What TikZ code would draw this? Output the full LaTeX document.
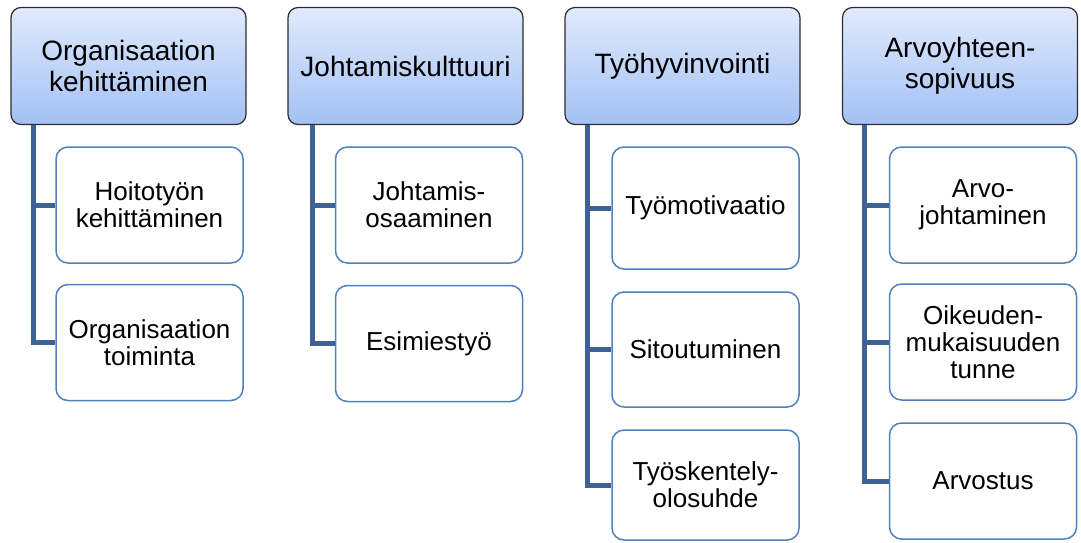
\documentclass[tikz,border=0pt]{standalone}
\usepackage{fontspec}
\setmainfont{Liberation Sans}
\definecolor{headtop}{RGB}{224,234,252}
\definecolor{headbot}{RGB}{163,193,245}
\definecolor{headline}{RGB}{45,45,45}
\definecolor{subline}{RGB}{79,129,189}
\definecolor{connblue}{RGB}{62,98,148}
\tikzstyle{hbox}=[rectangle, rounded corners=10pt, draw=headline,
  line width=1.2pt, top color=headtop, bottom color=headbot,
  minimum width=235pt, minimum height=117pt, align=center,
  inner sep=0pt, font=\fontsize{28}{31}\selectfont]
\tikzstyle{sbox}=[rectangle, rounded corners=12pt, draw=subline,
  line width=1.5pt, fill=white, minimum width=187pt, minimum height=116pt,
  align=center, inner sep=0pt, font=\fontsize{26}{27}\selectfont]
\tikzstyle{conn}=[draw=connblue, line width=5pt]

\begin{document}
\begin{tikzpicture}[x=1pt, y=-1pt]
        \useasboundingbox (0,0) rectangle (1081,542);
        % headers
        \node[hbox] (h1) at (128.5,66) {Organisaation\\kehittäminen};
        \node[hbox] (h2) at (405.5,66) {Johtamiskulttuuri};
        \node[hbox] (h3) at (682.5,66) {Työhyvinvointi};
        \node[hbox] (h4) at (960,66) {Arvoyhteen-\\sopivuus};
        % sub items
        \node[sbox] (s11) at (149.5,205) {Hoitotyön\\kehittäminen};
        \node[sbox] (s12) at (149.5,342.5) {Organisaation\\toiminta};
        \node[sbox] (s21) at (429,205) {Johtamis-\\osaaminen};
        \node[sbox] (s22) at (429,343.5) {Esimiestyö};
        \node[sbox, minimum height=122pt] (s31) at (705.5,208) {Työmotivaatio};
        \node[sbox, minimum height=115pt] (s32) at (705.5,349.5) {Sitoutuminen};
        \node[sbox, minimum height=110pt] (s33) at (705.5,485) {Työskentely-\\olosuhde};
        \node[sbox] (s41) at (983,205) {Arvo-\\johtaminen};
        \node[sbox] (s42) at (983,342) {Oikeuden-\\mukaisuuden\\tunne};
        \node[sbox] (s43) at (983,481) {Arvostus};
        % connectors
        \draw[conn] ([xshift=23pt]h1.south west) |- (s11.west);
        \draw[conn] ([xshift=23pt]h1.south west) |- (s12.west);
        \draw[conn] ([xshift=25pt]h2.south west) |- (s21.west);
        \draw[conn] ([xshift=25pt]h2.south west) |- (s22.west);
        \draw[conn] ([xshift=23pt]h3.south west) |- (s31.west);
        \draw[conn] ([xshift=23pt]h3.south west) |- (s32.west);
        \draw[conn] ([xshift=23pt]h3.south west) |- (s33.west);
        \draw[conn] ([xshift=23pt]h4.south west) |- (s41.west);
        \draw[conn] ([xshift=23pt]h4.south west) |- (s42.west);
        \draw[conn] ([xshift=23pt]h4.south west) |- (s43.west);
      \end{tikzpicture}
\end{document}
